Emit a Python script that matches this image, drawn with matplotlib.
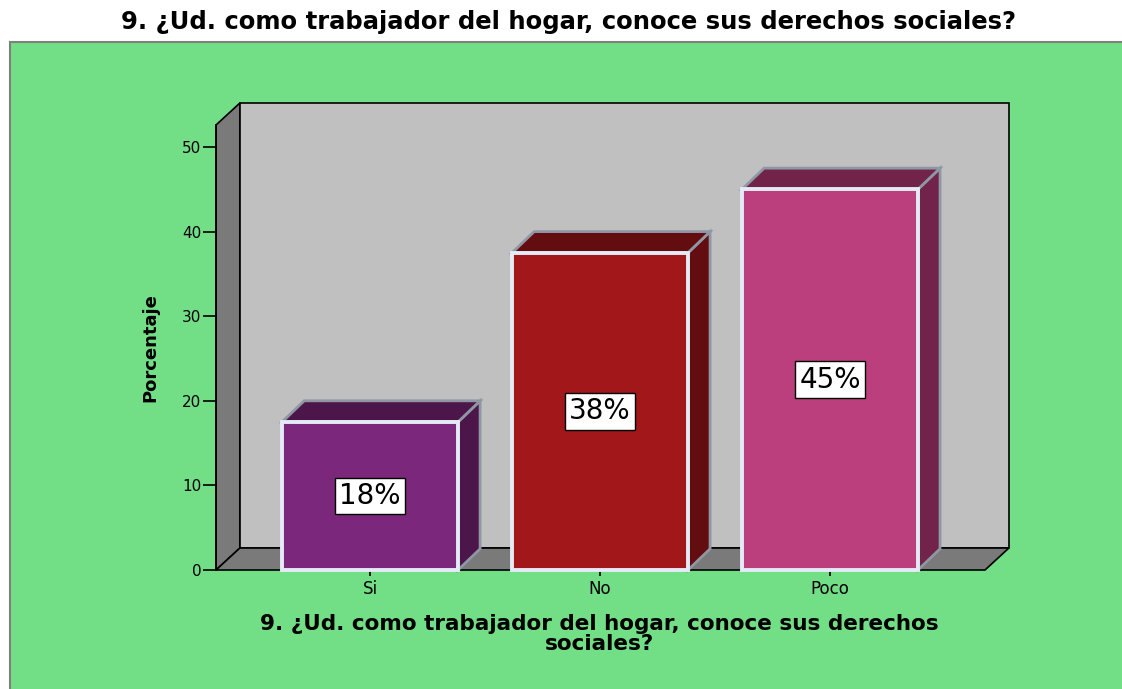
import matplotlib
matplotlib.use("Agg")
import matplotlib.pyplot as plt
from matplotlib.patches import Polygon, Rectangle

categories = ["Si", "No", "Poco"]
percentages = [17.5, 37.5, 45.0]
bar_labels = ["18%", "38%", "45%"]
front_colors = ["#7b287c", "#a1171a", "#ba3f7c"]
shade_colors = ["#4d164a", "#640d10", "#71234a"]
y_ticks = [0, 10, 20, 30, 40, 50]

title = "9. ¿Ud. como trabajador del hogar, conoce sus derechos sociales?"
x_title = "9. ¿Ud. como trabajador del hogar, conoce sus derechos\nsociales?"
y_title = "Porcentaje"

W, H = 1122, 689

# 3d look: depth offsets in data units
ymax = 52.6
x_lo, x_hi = -0.67, 2.674
wall_dx, wall_dy = 0.104, 2.6
bar_dx, bar_dy = 0.096, 2.5
bar_w = 0.765


def main():
    fig = plt.figure(figsize=(W / 100, H / 100), dpi=100)
    fig.patch.set_facecolor("white")

    # green panel
    fig.patches.append(Rectangle((10 / W, -0.01), 1.0, (H - 42) / H + 0.01,
                                 transform=fig.transFigure, facecolor="#72de86",
                                 edgecolor="#7f7f7f", lw=1.5, zorder=-10))

    ax = fig.add_axes([216 / W, (H - 570) / H, 769 / W, 445 / H])
    ax.set_facecolor("none")
    ax.set_xlim(x_lo, x_hi)
    ax.set_ylim(0, ymax)

    # left wall, back wall, floor
    ax.add_patch(Polygon([(x_lo, 0), (x_lo, ymax), (x_lo + wall_dx, ymax + wall_dy),
                          (x_lo + wall_dx, wall_dy)], closed=True,
                         facecolor="#7a7a7a", edgecolor="black", lw=1.2, clip_on=False, zorder=1))
    ax.add_patch(Polygon([(x_lo + wall_dx, wall_dy), (x_lo + wall_dx, ymax + wall_dy),
                          (x_hi + wall_dx, ymax + wall_dy), (x_hi + wall_dx, wall_dy)], closed=True,
                         facecolor="#c0c0c0", edgecolor="black", lw=1.2, clip_on=False, zorder=1))
    ax.add_patch(Polygon([(x_lo, 0), (x_lo + wall_dx, wall_dy), (x_hi + wall_dx, wall_dy),
                          (x_hi, 0)], closed=True,
                         facecolor="#7a7a7a", edgecolor="black", lw=1.2, clip_on=False, zorder=1))

    xs = list(range(len(categories)))
    for i, v in enumerate(percentages):
        x0 = i - bar_w / 2
        x1 = i + bar_w / 2
        side = [(x1, 0), (x1, v), (x1 + bar_dx, v + bar_dy), (x1 + bar_dx, bar_dy)]
        top = [(x0, v), (x0 + bar_dx, v + bar_dy), (x1 + bar_dx, v + bar_dy), (x1, v)]
        ax.add_patch(Polygon(side, closed=True, facecolor=shade_colors[i],
                             edgecolor="#8e97a3", lw=2, clip_on=False, zorder=2))
        ax.add_patch(Polygon(top, closed=True, facecolor=shade_colors[i],
                             edgecolor="#8e97a3", lw=2, clip_on=False, zorder=2))

    ax.bar(xs, percentages, width=bar_w, color=front_colors, edgecolor="#e4ebf7",
           linewidth=2.8, zorder=3, clip_on=False)

    for i, v in enumerate(percentages):
        ax.text(i, v / 2, bar_labels[i], ha="center", va="center", fontsize=20, zorder=4,
                bbox=dict(boxstyle="square,pad=0.15", facecolor="white",
                          edgecolor="black", lw=1))

    for s in ["top", "right", "bottom"]:
        ax.spines[s].set_visible(False)
    ax.spines["left"].set_linewidth(1.2)
    ax.spines["left"].set_zorder(5)

    ax.set_yticks(y_ticks)
    ax.tick_params(axis="y", length=9.5, width=1.2, labelsize=11, pad=1)
    ax.set_xticks(xs)
    ax.set_xticklabels(categories)
    ax.tick_params(axis="x", length=4, width=1.2, labelsize=12, pad=3)

    fig.text(569 / W, 1 - 22 / H, title, ha="center", va="center",
             fontsize=17.5, fontweight="bold")
    fig.text(599 / W, 1 - 634 / H, x_title, ha="center", va="center",
             fontsize=15.5, fontweight="bold", linespacing=1.0)
    fig.text(150 / W, 1 - 348 / H, y_title, ha="center", va="center",
             fontsize=13, fontweight="bold", rotation=90)

    fig.savefig("out.png", dpi=100)


if __name__ == "__main__":
    main()
